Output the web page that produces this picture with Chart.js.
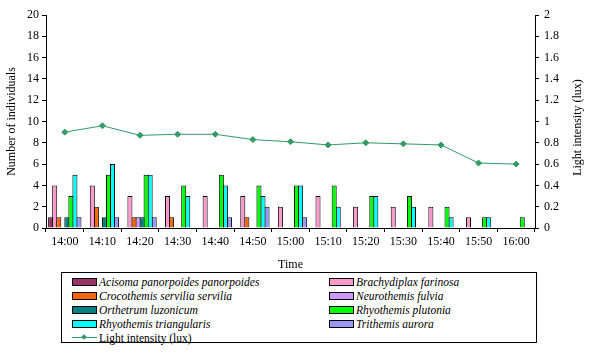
<!DOCTYPE html>
<html>
<head>
<meta charset="utf-8">
<script src="https://cdn.jsdelivr.net/npm/chart.js@4.4.1/dist/chart.umd.min.js"></script>
<style>
    html, body { margin: 0; padding: 0; background: #fff; }
    #wrap { position: relative; width: 609px; height: 354px; overflow: hidden; }
    #chart { position: absolute; left: 0; top: 0; }
    #legend {
        position: absolute; left: 61px; top: 272px; width: 476px; height: 71px;
        border: 1px solid #000; box-sizing: border-box;
        font-family: "Liberation Serif", "Times New Roman", serif; font-size: 11.5px; color: #000;
    }
    .lg-item { position: absolute; height: 14px; line-height: 14px; white-space: nowrap; }
    .lg-item i { font-style: italic; }
    .lg-box { position: absolute; left: 0; top: 3px; width: 23px; height: 6px; border: 1px solid #000; }
    .lg-text { position: absolute; left: 27px; top: 0; }
    .lg-line { position: absolute; left: 0; top: 6px; width: 25px; height: 1px; }
    .lg-dot { position: absolute; left: 10px; top: 4px; width: 4px; height: 4px; transform: rotate(45deg); }
</style>
</head>
<body>
<div id="wrap">
    <canvas id="chart" width="609" height="272"></canvas>
    <div id="legend"></div>
</div>
<script>
(function () {
    'use strict';

    var times = ['14:00', '14:10', '14:20', '14:30', '14:40', '14:50', '15:00', '15:10', '15:20', '15:30', '15:40', '15:50', '16:00'];

    var acisoma = [1, 0, 0, 0, 0, 0, 0, 0, 0, 0, 0, 0, 0];
    var brachydiplax = [4, 4, 3, 3, 3, 3, 2, 3, 2, 2, 2, 1, 0];
    var crocothemis = [1, 2, 1, 1, 0, 1, 0, 0, 0, 0, 0, 0, 0];
    var neurothemis = [0, 0, 1, 0, 0, 0, 0, 0, 0, 0, 0, 0, 0];
    var orthetrum = [1, 1, 1, 0, 0, 0, 0, 0, 0, 0, 0, 0, 0];
    var plutonia = [3, 5, 5, 4, 5, 4, 4, 4, 3, 3, 2, 1, 1];
    var triangularis = [5, 6, 5, 3, 4, 3, 4, 2, 3, 2, 1, 1, 0];
    var trithemis = [1, 1, 1, 0, 1, 2, 1, 0, 0, 0, 0, 0, 0];
    var lightLux = [0.9, 0.96, 0.87, 0.88, 0.88, 0.83, 0.81, 0.78, 0.8, 0.79, 0.78, 0.61, 0.6];

    var C = {
        maroon: '#993366',
        pink: '#ff99cc',
        orange: '#ff6600',
        lilac: '#cc99ff',
        teal: '#008080',
        green: '#00ff00',
        cyan: '#00ffff',
        blue: '#9999ff',
        line: '#339966',
        text: '#000000'
    };

    var FONT = "'Liberation Serif', 'Times New Roman', serif";

    var species = [
        { name: 'Acisoma panorpoides panorpoides', data: acisoma, color: C.maroon },
        { name: 'Brachydiplax farinosa', data: brachydiplax, color: C.pink },
        { name: 'Crocothemis servilia servilia', data: crocothemis, color: C.orange },
        { name: 'Neurothemis fulvia', data: neurothemis, color: C.lilac },
        { name: 'Orthetrum luzonicum', data: orthetrum, color: C.teal },
        { name: 'Rhyothemis plutonia', data: plutonia, color: C.green },
        { name: 'Rhyothemis triangularis', data: triangularis, color: C.cyan },
        { name: 'Trithemis aurora', data: trithemis, color: C.blue }
    ];

    function buildLegend() {
        var box = document.getElementById('legend');
        var colX = [10, 267];
        species.forEach(function (s, i) {
            var item = document.createElement('div');
            item.className = 'lg-item';
            item.style.left = colX[i % 2] + 'px';
            item.style.top = (2 + Math.floor(i / 2) * 14) + 'px';
            item.innerHTML = '<span class="lg-box" style="background:' + s.color + '"></span>' +
                '<span class="lg-text"><i>' + s.name + '</i></span>';
            box.appendChild(item);
        });
        var li = document.createElement('div');
        li.className = 'lg-item';
        li.style.left = colX[0] + 'px';
        li.style.top = (2 + 4 * 14) + 'px';
        li.innerHTML = '<span class="lg-line" style="background:' + C.line + '"></span>' +
            '<span class="lg-dot" style="background:' + C.line + '"></span>' +
            '<span class="lg-text">Light intensity (lux)</span>';
        box.appendChild(li);
    }

    // right-hand title reads bottom-to-top, which the built-in title does not do
    var rightTitle = {
        id: 'rightTitle',
        afterDraw: function (chart) {
            var ctx = chart.ctx;
            var area = chart.chartArea;
            ctx.save();
            ctx.translate(578, (area.top + area.bottom) / 2 + 6);
            ctx.rotate(-Math.PI / 2);
            ctx.font = '12px ' + FONT;
            ctx.fillStyle = C.text;
            ctx.textAlign = 'center';
            ctx.textBaseline = 'middle';
            ctx.fillText('Light intensity (lux)', 0, 0);
            ctx.restore();
        }
    };

    function axisGrid() {
        return { display: true, drawOnChartArea: false, color: '#000', tickLength: 4, lineWidth: 1 };
    }

    function init() {
        buildLegend();

        var datasets = species.map(function (s) {
            return {
                type: 'bar',
                label: s.name,
                data: s.data,
                backgroundColor: s.color,
                borderColor: '#000',
                borderWidth: 1,
                borderSkipped: 'bottom',
                yAxisID: 'y',
                order: 2,
                categoryPercentage: 0.86,
                barPercentage: 1.25
            };
        });

        datasets.push({
            type: 'line',
            label: 'Light intensity (lux)',
            data: lightLux,
            borderColor: C.line,
            backgroundColor: C.line,
            borderWidth: 1,
            pointStyle: 'rectRot',
            pointRadius: 3,
            yAxisID: 'y1',
            order: 1
        });

        new Chart(document.getElementById('chart'), {
            type: 'bar',
            data: { labels: times, datasets: datasets },
            plugins: [rightTitle],
            options: {
                responsive: false,
                animation: false,
                layout: { padding: { top: 15, left: 0, right: 0, bottom: 0 } },
                plugins: { legend: { display: false }, tooltip: { enabled: false } },
                scales: {
                    x: {
                        grid: axisGrid(),
                        border: { color: '#000', width: 1 },
                        ticks: { color: C.text, font: { family: FONT, size: 12 }, maxRotation: 0, padding: 3 },
                        title: { display: true, text: 'Time', color: C.text, font: { family: FONT, size: 12 }, padding: { top: 4, bottom: 0 } },
                        afterFit: function (scale) { scale.height = 44; }
                    },
                    y: {
                        position: 'left',
                        min: 0,
                        max: 20,
                        grid: axisGrid(),
                        border: { color: '#000', width: 1 },
                        ticks: { stepSize: 2, color: C.text, font: { family: FONT, size: 12 }, padding: 3 },
                        title: { display: true, text: 'Number of individuals', color: C.text, font: { family: FONT, size: 12 }, padding: { top: 5, bottom: 0 } },
                        afterFit: function (scale) { scale.width = 46; }
                    },
                    y1: {
                        position: 'right',
                        min: 0,
                        max: 2,
                        grid: axisGrid(),
                        border: { color: '#000', width: 1 },
                        ticks: {
                            stepSize: 0.2,
                            color: C.text,
                            font: { family: FONT, size: 12 },
                            padding: 5,
                            callback: function (v) { return String(Math.round(v * 10) / 10); }
                        },
                        afterFit: function (scale) { scale.width = 74; }
                    }
                }
            }
        });
    }

    init();
})();
</script>
</body>
</html>
